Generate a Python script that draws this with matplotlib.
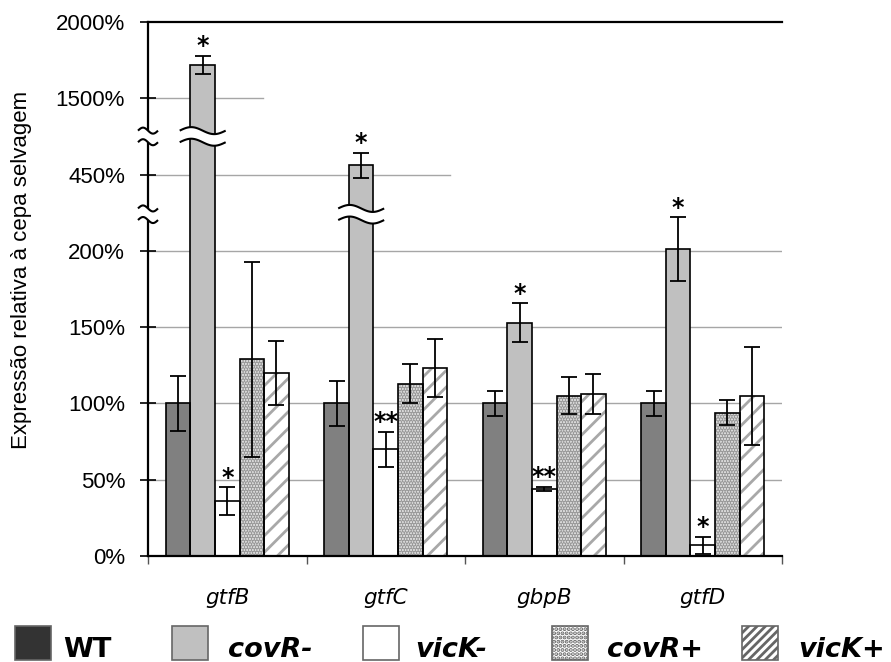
import numpy as np
import matplotlib
matplotlib.use("Agg")
import matplotlib.pyplot as plt
from matplotlib.patches import Rectangle, Polygon
from matplotlib.transforms import blended_transform_factory

# ── Data (relative expression, % of wild type) ───────────────────────────────
GENES = ["gtfB", "gtfC", "gbpB", "gtfD"]
STRAINS = ["WT", "covR-", "vicK-", "covR+", "vicK+"]

WT = [100, 100, 100, 100]
WT_ERR = [18, 15, 8, 8]
COVR_NEG = [1720, 456, 153, 201]
COVR_NEG_ERR = [60, 8, 12.5, 21]
VICK_NEG = [36, 70, 44, 7]
VICK_NEG_ERR = [9, 11.5, 1.5, 5.5]
COVR_POS = [129, 113, 105, 94]
COVR_POS_ERR = [64, 13, 12, 8]
VICK_POS = [120, 123, 106, 105]
VICK_POS_ERR = [21, 19, 13, 32]

COVR_NEG_SIG = ["*", "*", "*", "*"]
VICK_NEG_SIG = ["*", "**", "**", "*"]

YTICKS = [0, 50, 100, 150, 200, 450, 1500, 2000]
YTICK_LABELS = ["0%", "50%", "100%", "150%", "200%", "450%", "1500%", "2000%"]

# ── Broken y scale: real % -> display units ─────────────────────────────────
REAL_BP = [0, 224, 424, 475, 1250, 2000]
DISP_BP = [0, 224, 224.001, 275, 275.001, 350]
BREAKS_DISP = [224, 275]
DISP_MAX = 350.0


def fwd(v):
    return np.interp(v, REAL_BP, DISP_BP)


def inv(d):
    return np.interp(d, DISP_BP, REAL_BP)


# ── Styles ───────────────────────────────────────────────────────────────────
SERIES = [
    (WT, WT_ERR, None, dict(fc="#808080", hatch=None, hc=None)),
    (COVR_NEG, COVR_NEG_ERR, COVR_NEG_SIG, dict(fc="#C0C0C0", hatch=None, hc=None)),
    (VICK_NEG, VICK_NEG_ERR, VICK_NEG_SIG, dict(fc="white", hatch=None, hc=None)),
    (COVR_POS, COVR_POS_ERR, None, dict(fc="#E4E4E4", hatch="......", hc="#9A9A9A")),
    (VICK_POS, VICK_POS_ERR, None, dict(fc="white", hatch="//", hc="#A8A8A8")),
]
LEG_FACE = ["#333333", "#C0C0C0", "white", "white", "white"]
LEG_HATCH = [None, None, None, "....", "////"]
LEG_X = [15, 172, 363, 552, 742]      # pixel x of legend squares
LEG_LABEL_X = [63, 228, 415, 607, 798]

plt.rcParams["hatch.linewidth"] = 2.0
plt.rcParams["font.family"] = "Liberation Sans"

W, H = 891, 662
fig = plt.figure(figsize=(W / 100, H / 100), dpi=100)
ax = fig.add_axes([148 / W, 1 - 556 / H, (782 - 148) / W, (556 - 22) / H])
ax.set_yscale("function", functions=(fwd, inv))
ax.set_ylim(0, 2000)
ax.set_xlim(-0.5, len(GENES) - 0.5)

# gridlines
for t in YTICKS[1:5]:
    ax.axhline(t, color="#A6A6A6", lw=1.0, zorder=0)
ax.axhline(450, xmax=(450 - 148) / 634, color="#A6A6A6", lw=1.0, zorder=0)
ax.axhline(1500, xmax=(263 - 148) / 634, color="#A6A6A6", lw=1.0, zorder=0)

x = np.arange(len(GENES))
bw = 0.155
blend = blended_transform_factory(ax.transData, ax.transAxes)
px_y = 1.0 / 534  # one pixel in axes fraction


def wave_band(xc, half_w, yc, amp, transform, lw=1.5):
    t = np.linspace(0, 1, 60)
    xs = xc - half_w + 2 * half_w * t
    gap = 5.8 * px_y
    y_lo = yc - gap + amp * np.sin(2 * np.pi * t)
    y_hi = yc + gap + amp * np.sin(2 * np.pi * t)
    poly = np.column_stack([np.r_[xs, xs[::-1]], np.r_[y_lo, y_hi[::-1]]])
    ax.add_patch(Polygon(poly, closed=True, facecolor="white", edgecolor="none",
                         transform=transform, zorder=8, clip_on=False))
    for yy in (y_lo, y_hi):
        ax.plot(xs, yy, color="black", lw=lw, transform=transform,
                zorder=9, clip_on=False, solid_capstyle="butt")


for k, (vals, errs, sig, st) in enumerate(SERIES):
    xs = x + (k - 2) * bw
    ax.bar(xs, vals, width=bw, color=st["fc"], edgecolor="none",
           hatch=st["hatch"], zorder=2, linewidth=0)
    if st["hatch"]:
        for p in ax.patches[-len(vals):]:
            p.set_edgecolor(st["hc"])
    ax.bar(xs, vals, width=bw, fill=False, edgecolor="black", lw=1.2, zorder=3)
    ax.errorbar(xs, vals, yerr=errs, fmt="none", ecolor="black", elinewidth=1.3,
                capsize=5.5, capthick=1.3, zorder=4)
    for xi, v, e, j in zip(xs, vals, errs, range(len(vals))):
        d = fwd(v)
        below = [b for b in BREAKS_DISP if b < d - 5]
        if below:
            wave_band(xi, 0.145, max(below) / DISP_MAX, 3.5 * px_y, blend)
        if sig and sig[j]:
            ax.annotate(sig[j], xy=(xi, v + e), xytext=(0, 7),
                        textcoords="offset points", ha="center", va="center",
                        fontsize=17, fontweight="bold", family="DejaVu Sans",
                        zorder=6)

# axis breaks
for b in BREAKS_DISP:
    wave_band(0.0, 10 / 634, b / DISP_MAX, 3 * px_y, ax.transAxes)

# axes styling
for s in ("left", "bottom", "top"):
    ax.spines[s].set_linewidth(1.6)
ax.spines["right"].set_visible(False)
ax.set_yticks(YTICKS)
ax.set_yticklabels(YTICK_LABELS)
ax.yaxis.set_minor_locator(matplotlib.ticker.NullLocator())
ax.tick_params(axis="y", direction="inout", length=11, width=1.2, pad=11,
               labelsize=16, colors="black")
ax.set_xticks(x)
ax.set_xticklabels(GENES, fontstyle="italic", family="DejaVu Sans", fontsize=15.5)
ax.set_xticks(np.arange(len(GENES) + 1) - 0.5, minor=True)
ax.tick_params(axis="x", which="major", length=0, pad=23)
ax.tick_params(axis="x", which="minor", direction="out", length=6, width=1.0,
               color="#555555")

fig.text(22 / W, 1 - 270 / H, "Expressão relativa à cepa selvagem",
         rotation=90, ha="center", va="center", fontsize=16)

# legend
for k, name in enumerate(STRAINS):
    fig.patches.append(Rectangle((LEG_X[k] / W, 2 / H), 36 / W, 34 / H,
                                 transform=fig.transFigure, facecolor=LEG_FACE[k],
                                 edgecolor="#666666", lw=1.2, hatch=LEG_HATCH[k]))
    fig.text(LEG_LABEL_X[k] / W, 5 / H, name, ha="left", va="baseline",
             fontsize=19.5, fontweight="bold", family="DejaVu Sans",
             fontstyle="normal" if k == 0 else "italic")

fig.savefig("out.png", dpi=100)
